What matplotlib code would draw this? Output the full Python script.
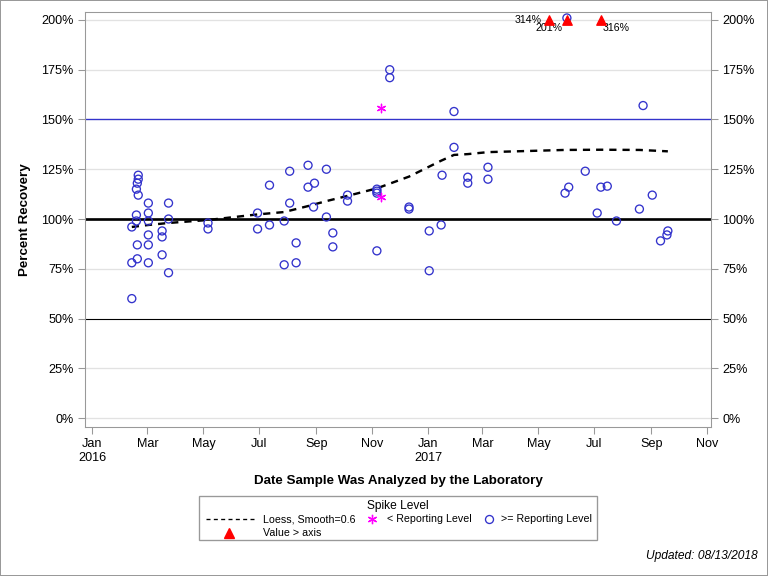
import matplotlib
matplotlib.use("Agg")
import matplotlib.pyplot as plt
from matplotlib.lines import Line2D
import pandas as pd

plt.rcParams['font.family'] = ['Liberation Sans', 'DejaVu Sans']

# >= Reporting Level (open circles)
circ_dates = ["2016-02-13", "2016-02-13", "2016-02-13", "2016-02-18", "2016-02-18", "2016-02-19",
              "2016-02-19", "2016-02-20", "2016-02-18", "2016-02-19", "2016-02-20", "2016-02-20",
              "2016-03-02", "2016-03-02", "2016-03-02", "2016-03-02", "2016-03-02", "2016-03-02",
              "2016-03-17", "2016-03-17", "2016-03-17", "2016-03-24", "2016-03-24", "2016-03-24",
              "2016-05-06", "2016-05-06", "2016-06-29", "2016-06-29", "2016-07-12", "2016-07-12",
              "2016-07-28", "2016-07-28", "2016-08-03", "2016-08-03", "2016-08-10", "2016-08-10",
              "2016-08-23", "2016-08-23", "2016-08-30", "2016-08-29", "2016-09-12", "2016-09-12",
              "2016-09-19", "2016-09-19", "2016-10-05", "2016-10-05", "2016-11-06", "2016-11-06",
              "2016-11-06", "2016-11-06", "2016-11-20", "2016-11-20", "2016-12-11", "2016-12-11",
              "2017-01-02", "2017-01-02", "2017-01-15", "2017-01-16", "2017-01-29", "2017-01-29",
              "2017-02-13", "2017-02-13", "2017-03-07", "2017-03-07", "2017-05-30", "2017-06-01",
              "2017-06-03", "2017-06-21", "2017-07-04", "2017-07-08", "2017-07-15", "2017-07-25",
              "2017-08-19", "2017-08-23", "2017-09-02", "2017-09-11", "2017-09-18", "2017-09-19"]
circ_vals = [96, 78, 60, 102, 99, 87,
             80, 112, 115, 118, 120, 122,
             108, 103, 99, 92, 87, 78,
             94, 91, 82, 108, 100, 73,
             98, 95, 103, 95, 117, 97,
             99, 77, 124, 108, 88, 78,
             127, 116, 118, 106, 125, 101,
             93, 86, 112, 109, 115, 114,
             113, 84, 175, 171, 106, 105,
             94, 74, 97, 122, 154, 136,
             121, 118, 126, 120, 113, 201,
             116, 124, 103, 116, 116.5, 99,
             105, 157, 112, 89, 92, 94]

# < Reporting Level (stars)
star_dates = ["2016-11-10", "2016-11-10"]
star_vals = [111, 156]

# Value > axis (triangles drawn at 200%)
tri_dates = ["2017-05-13", "2017-06-01", "2017-07-08"]
tri_labels = ["314%", "201%", "316%"]

# Loess curve
loess_dates = ["2016-02-13", "2016-03-02", "2016-03-24", "2016-05-06", "2016-06-29", "2016-07-28",
               "2016-08-23", "2016-09-12", "2016-10-05", "2016-11-06", "2016-12-11", "2017-01-15",
               "2017-01-29", "2017-02-13", "2017-03-07", "2017-05-30", "2017-07-08", "2017-08-19",
               "2017-09-19"]
loess_vals = [96, 97, 98, 99.5, 102.3, 103.5,
              106.5, 109, 111.6, 115.4, 121.3, 129.3,
              132.2, 132.6, 133.6, 134.7, 134.8, 134.7,
              134]

yticks = [0, 25, 50, 75, 100, 125, 150, 175, 200]
xtick_dates = ["2016-01-01", "2016-03-01", "2016-05-01", "2016-07-01", "2016-09-01", "2016-11-01",
               "2017-01-01", "2017-03-01", "2017-05-01", "2017-07-01", "2017-09-01", "2017-11-01"]
xtick_labels = ["Jan\n2016", "Mar", "May", "Jul", "Sep", "Nov",
                "Jan\n2017", "Mar", "May", "Jul", "Sep", "Nov"]

blue = '#3333cc'
W, H = 768, 576
fig = plt.figure(figsize=(8, 6), dpi=96)
ax = fig.add_axes([85/W, 1-427/H, (711-85)/W, (427-12)/H])

for y in yticks:
    ax.axhline(y, color='#e2e2e2', lw=1, zorder=0)
ax.axhline(100, color='black', lw=2, zorder=1)
ax.axhline(50, color='black', lw=0.8, zorder=1)
ax.axhline(150, color=blue, lw=1, zorder=1)

cd = pd.to_datetime(circ_dates)
ax.scatter(cd, circ_vals, s=36, facecolors='none', edgecolors=blue, linewidths=1, zorder=3)
sd = pd.to_datetime(star_dates)
ax.scatter(sd, star_vals, s=40, marker=(6, 2, 0), color='#ff00ff', linewidths=1, zorder=3)
td = pd.to_datetime(tri_dates)
ax.scatter(td, [200]*len(td), s=50, marker='^', color='red', zorder=4, clip_on=False)
offsets = [(-6, 0, 'right', 'center'), (-3, -6, 'right', 'center'), (1, -6, 'left', 'center')]
for d, lab, (dx, dy, ha, va) in zip(td, tri_labels, offsets):
    ax.annotate(lab, (d, 200), xytext=(dx, dy), textcoords='offset points', ha=ha, va=va, fontsize=8)
ld = pd.to_datetime(loess_dates)
ax.plot(ld, loess_vals, color='black', lw=1.8, ls=(0, (3, 2.5)), zorder=2)

ax.set_ylim(-4.5, 204)
ax.set_xlim(pd.Timestamp("2015-12-24"), pd.Timestamp("2017-11-05"))
ax.set_yticks(yticks)
ax.set_yticklabels([f"{y}%" for y in yticks])
ax.set_xticks(pd.to_datetime(xtick_dates))
ax.set_xticklabels(xtick_labels)
ax.tick_params(axis='both', colors='#999999', labelcolor='black', labelsize=9.5, length=5)
ax.tick_params(axis='y', right=True, labelright=True)
for s in ax.spines.values():
    s.set_color('#999999')

ax.set_ylabel("Percent Recovery", fontsize=10, fontweight='bold', labelpad=8)
ax.set_xlabel("Date Sample Was Analyzed by the Laboratory", fontsize=10, fontweight='bold', labelpad=8)

# Manual legend in figure pixel coordinates
def fx(px):
    return px / W

def fy(py):
    return 1 - py / H

fs = 8
fig.patches.append(plt.Rectangle((fx(199), fy(540)), fx(597) - fx(199), fy(496) - fy(540),
                                 transform=fig.transFigure, fill=False, edgecolor='#999999', lw=1))
fig.text(fx(398), fy(506), "Spike Level", ha='center', va='center', fontsize=9)
fig.add_artist(Line2D([fx(206), fx(254)], [fy(519), fy(519)], transform=fig.transFigure,
                      color='black', lw=1, ls=(0, (3, 2.5))))
fig.text(fx(263), fy(519), "Loess, Smooth=0.6", ha='left', va='center', fontsize=fs)
fig.add_artist(Line2D([fx(372)], [fy(519)], transform=fig.transFigure, color='#ff00ff',
                      marker=(6, 2, 0), markersize=7, ls='none'))
fig.text(fx(387), fy(519), "< Reporting Level", ha='left', va='center', fontsize=fs)
fig.add_artist(Line2D([fx(489)], [fy(519)], transform=fig.transFigure, markeredgecolor=blue,
                      markerfacecolor='none', marker='o', markersize=6, ls='none'))
fig.text(fx(501), fy(519), ">= Reporting Level", ha='left', va='center', fontsize=fs)
fig.add_artist(Line2D([fx(229)], [fy(533)], transform=fig.transFigure, color='red',
                      marker='^', markersize=8, ls='none'))
fig.text(fx(263), fy(533), "Value > axis", ha='left', va='center', fontsize=fs)

fig.text(758/W, 1-556/H, "Updated: 08/13/2018", ha='right', va='center', fontsize=9, style='italic')
fig.patches.append(plt.Rectangle((0, 0), 1, 1, transform=fig.transFigure, fill=False,
                                 edgecolor='#999999', lw=1.5))

fig.savefig("out.png", dpi=96)
